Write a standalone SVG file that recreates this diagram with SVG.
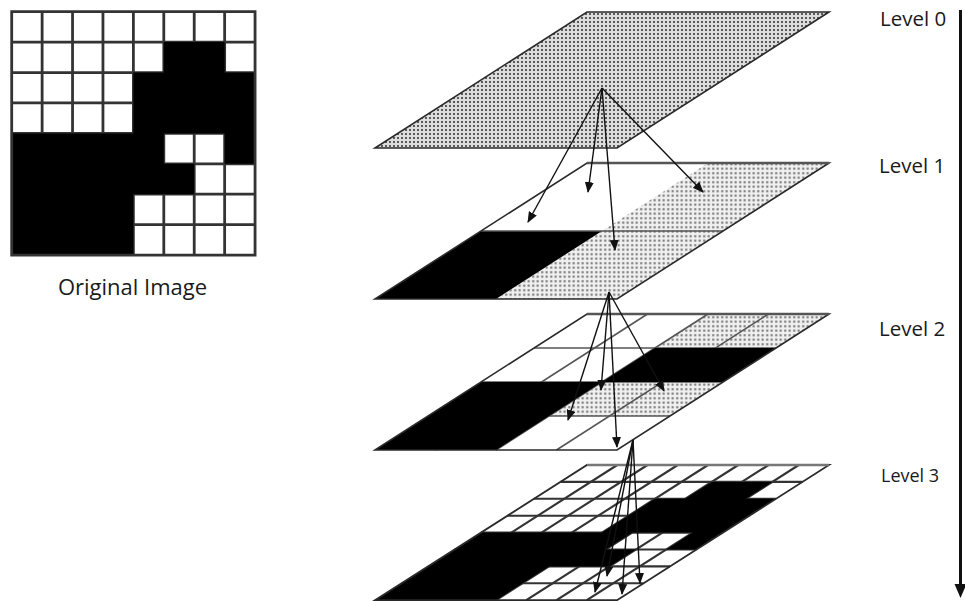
<svg xmlns="http://www.w3.org/2000/svg" width="965" height="601" viewBox="0 0 965 601">
<defs>
<style>
.lbl{font-family:"Open Sans","Liberation Sans",sans-serif;fill:#1a1a1a}
.edge{fill:none;stroke:#2a2a2a;stroke-width:1.6;stroke-linejoin:miter}
.top{stroke:#555;stroke-width:2.6}
.grid{stroke:#555;stroke-width:1.6;fill:none}
.ns{vector-effect:non-scaling-stroke}
.arr{stroke:#111;stroke-width:1.4;fill:none;marker-end:url(#ah)}
.dk{fill:url(#dotsDark)}
.lt{fill:url(#dotsLight)}
</style>
<pattern id="dotsDark" width="4" height="4" patternUnits="userSpaceOnUse">
<rect width="4" height="4" fill="#dcdcdc"/><rect x="1" y="1" width="2" height="2" fill="#5a5a5a"/>
</pattern>
<pattern id="dotsLight" width="4.5" height="4.5" patternUnits="userSpaceOnUse">
<rect width="4.5" height="4.5" fill="#f0f0f0"/><rect x="1.2" y="1.2" width="2" height="2" fill="#6a6a6a"/>
</pattern>
<marker id="ah" markerUnits="userSpaceOnUse" markerWidth="11" markerHeight="9" refX="10" refY="4.5" orient="auto">
<path d="M0,0 L11,4.5 L0,9 z" fill="#111"/>
</marker>
</defs>
<rect width="965" height="601" fill="#fff"/>

<g id="original-image">
<g transform="translate(11.7 11.7) scale(30.42)">
<rect x="0" y="0" width="8" height="8" fill="#fff"/>
<g stroke="#333" stroke-width="2.8">
<line x1="1" y1="0" x2="1" y2="8" class="ns"/><line x1="2" y1="0" x2="2" y2="8" class="ns"/>
<line x1="3" y1="0" x2="3" y2="8" class="ns"/><line x1="4" y1="0" x2="4" y2="8" class="ns"/>
<line x1="5" y1="0" x2="5" y2="8" class="ns"/><line x1="6" y1="0" x2="6" y2="8" class="ns"/>
<line x1="7" y1="0" x2="7" y2="8" class="ns"/>
<line x1="0" y1="1" x2="8" y2="1" class="ns"/><line x1="0" y1="2" x2="8" y2="2" class="ns"/>
<line x1="0" y1="3" x2="8" y2="3" class="ns"/><line x1="0" y1="4" x2="8" y2="4" class="ns"/>
<line x1="0" y1="5" x2="8" y2="5" class="ns"/><line x1="0" y1="6" x2="8" y2="6" class="ns"/>
<line x1="0" y1="7" x2="8" y2="7" class="ns"/>
</g>
<path d="M5,1 H7 V2 H8 V5 H7 V4 H5 V5 H6 V6 H4 V8 H0 V4 H4 V2 H5 Z" fill="#000"/>
<rect x="0" y="0" width="8" height="8" fill="none" stroke="#333" stroke-width="2.8" class="ns"/>
</g>
<text class="lbl" x="132.5" y="295" font-size="22" text-anchor="middle">Original Image</text>
</g>

<g id="level0">
<polygon points="587,12 829,12 617,148 375,148" class="dk"/>
<polygon points="587,12 829,12 617,148 375,148" class="edge"/>
</g>

<g id="level1">
<polygon points="587,163 829,163 617,299 375,299" fill="#fff"/>
<polygon points="708,163 829,163 617,299 496,299" class="lt"/>
<polygon points="481,231 602,231 496,299 375,299" fill="#000"/>
<line x1="481" y1="231" x2="723" y2="231" class="grid" stroke="#333"/>
<polygon points="587,163 829,163 617,299 375,299" class="edge"/>
<line x1="587" y1="163" x2="829" y2="163" class="top"/>
</g>

<g id="level2">
<polygon points="587,314 829,314 617,450 375,450" fill="#fff"/>
<polygon points="708,314 829,314 776,348 655,348" class="lt"/>
<polygon points="602,382 723,382 670,416 549,416" class="lt"/>
<g class="grid">
<line x1="534" y1="348" x2="776" y2="348"/>
<line x1="481" y1="382" x2="723" y2="382"/>
<line x1="428" y1="416" x2="670" y2="416"/>
<line x1="647.5" y1="314" x2="435.5" y2="450"/>
<line x1="708" y1="314" x2="496" y2="450"/>
<line x1="768.5" y1="314" x2="556.5" y2="450"/>
</g>
<polygon points="655,348 776,348 723,382 602,382" fill="#000"/>
<polygon points="481,382 602,382 496,450 375,450" fill="#000"/>
<polygon points="587,314 829,314 617,450 375,450" class="edge"/>
<line x1="587" y1="314" x2="829" y2="314" class="top"/>
</g>

<g id="level3">
<g transform="matrix(30.25 0 -26.5 16.9 587 465)">
<rect x="0" y="0" width="8" height="8" fill="#fff"/>
<g stroke="#333" stroke-width="2.1" fill="none">
<line x1="1" y1="0" x2="1" y2="8" class="ns"/><line x1="2" y1="0" x2="2" y2="8" class="ns"/>
<line x1="3" y1="0" x2="3" y2="8" class="ns"/><line x1="4" y1="0" x2="4" y2="8" class="ns"/>
<line x1="5" y1="0" x2="5" y2="8" class="ns"/><line x1="6" y1="0" x2="6" y2="8" class="ns"/>
<line x1="7" y1="0" x2="7" y2="8" class="ns"/>
<line x1="0" y1="1" x2="8" y2="1" class="ns"/><line x1="0" y1="2" x2="8" y2="2" class="ns"/>
<line x1="0" y1="3" x2="8" y2="3" class="ns"/><line x1="0" y1="4" x2="8" y2="4" class="ns"/>
<line x1="0" y1="5" x2="8" y2="5" class="ns"/><line x1="0" y1="6" x2="8" y2="6" class="ns"/>
<line x1="0" y1="7" x2="8" y2="7" class="ns"/>
</g>
<path d="M5,1 H7 V2 H8 V5 H7 V4 H5 V5 H6 V6 H4 V8 H0 V4 H4 V2 H5 Z" fill="#000"/>
<rect x="0" y="0" width="8" height="8" fill="none" stroke="#2a2a2a" stroke-width="1.8" class="ns"/>
</g>
<line x1="587" y1="465" x2="829" y2="465" stroke="#777" stroke-width="2.6"/>
</g>

<g id="connectors">
<line x1="602" y1="88" x2="528" y2="222" class="arr"/>
<line x1="602" y1="88" x2="588" y2="192" class="arr"/>
<line x1="602" y1="88" x2="615" y2="250" class="arr"/>
<line x1="602" y1="88" x2="703" y2="192" class="arr"/>
<line x1="609" y1="292" x2="568" y2="420" class="arr"/>
<line x1="609" y1="292" x2="601" y2="390" class="arr"/>
<line x1="609" y1="292" x2="617" y2="447" class="arr"/>
<line x1="609" y1="292" x2="664" y2="391" class="arr"/>
<line x1="633" y1="440" x2="595" y2="592" class="arr"/>
<line x1="633" y1="440" x2="607" y2="576" class="arr"/>
<line x1="633" y1="440" x2="622" y2="594" class="arr"/>
<line x1="633" y1="440" x2="640" y2="583" class="arr"/>
</g>

<g id="level-axis">
<line x1="960.5" y1="10" x2="960.5" y2="586" stroke="#111" stroke-width="3"/>
<polygon points="954.5,584 966.5,584 960.5,598" fill="#111"/>
<text class="lbl" x="880" y="26" font-size="20.5">Level 0</text>
<text class="lbl" x="879" y="173" font-size="20.5">Level 1</text>
<text class="lbl" x="879" y="336" font-size="20.5">Level 2</text>
<text class="lbl" x="881" y="482" font-size="18">Level 3</text>
</g>
</svg>
